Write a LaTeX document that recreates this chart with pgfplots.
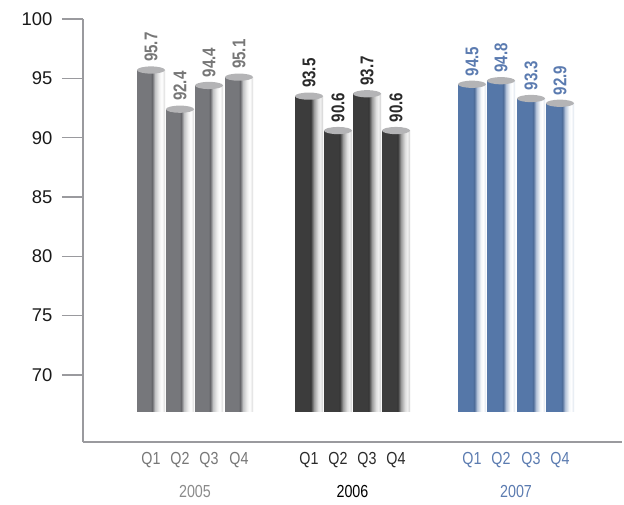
\documentclass[border=0pt]{standalone}
\usepackage{pgfplots}
\pgfplotsset{compat=1.18}
\usepackage{pgfplotstable}
\usepackage{fontspec}
\setmainfont{Liberation Sans}
\newfontfamily\condfont[FakeStretch=0.82]{Liberation Sans}
\definecolor{cA}{HTML}{76777B}
\definecolor{cB}{HTML}{3C3C3C}
\definecolor{cC}{HTML}{5577A8}
\definecolor{lA}{HTML}{777777}
\definecolor{lB}{HTML}{2A2A2A}
\definecolor{lC}{HTML}{5B7BB0}
\definecolor{yA}{HTML}{8A8A8A}
\definecolor{axgray}{HTML}{9A9A9E}
\definecolor{capgray}{HTML}{B4B4B6}
\pgfdeclarehorizontalshading{shA}{100bp}{color(0bp)=(cA); color(25bp)=(cA); color(49bp)=(cA); color(52bp)=(cA!85!black); color(57bp)=(cA!45!white); color(64bp)=(white!93!black); color(69bp)=(white); color(75bp)=(white!86!black); color(100bp)=(white!86!black)}
\pgfdeclarehorizontalshading{shB}{100bp}{color(0bp)=(cB); color(25bp)=(cB); color(50bp)=(cB); color(53bp)=(cB!90!black); color(59bp)=(cB!50!white); color(66bp)=(white!87!black); color(70bp)=(white!94!black); color(75bp)=(white!82!black); color(100bp)=(white!82!black)}
\pgfdeclarehorizontalshading{shC}{100bp}{color(0bp)=(cC); color(25bp)=(cC); color(51bp)=(cC); color(54bp)=(cC!90!black); color(59bp)=(cC!45!white); color(66bp)=(cC!6!white); color(70bp)=(white); color(75bp)=(cC!20!white); color(100bp)=(cC!20!white)}
\pgfdeclareplotmark{cyltop}{\pgfpathellipse{\pgfpointorigin}{\pgfpoint{14bp}{0pt}}{\pgfpoint{0pt}{3.6bp}}\pgfusepath{fill}}
\pgfplotstableread{
x v
151 95.7
180 92.4
209 94.4
239 95.1
}\tA
\pgfplotstableread{
x v
309 93.5
338 90.6
367 93.7
396 90.6
}\tB
\pgfplotstableread{
x v
472 94.5
501 94.8
531 93.3
560 92.9
}\tC
\begin{document}
\begin{tikzpicture}
\path[use as bounding box] (0,0) rectangle (624bp,505bp);
\begin{axis}[
  at={(83bp,63bp)}, anchor=south west,
  scale only axis, width=539bp, height=423bp,
  xmin=83, xmax=622, ymin=-2.54, ymax=33.1,
  axis x line*=bottom, axis y line*=left,
  axis line style={axgray, line width=1.8bp},
  clip=false,
  /pgf/number format/assume math mode=true,
  ytick={3.1,8.1,13.1,18.1,23.1,28.1,33.1},
  yticklabels={70,75,80,85,90,95,100},
  tick align=outside,
  major tick length=21bp,
  ytick style={axgray, line width=1.5bp},
  yticklabel style={font=\fontsize{18.5}{20}\selectfont, text=black!90, xshift=-6bp},
  xtick={151,180,209,239,309,338,367,396,472,501,531,560},
  xticklabels={\textcolor{lA}{Q1},\textcolor{lA}{Q2},\textcolor{lA}{Q3},\textcolor{lA}{Q4},
               \textcolor{lB}{Q1},\textcolor{lB}{Q2},\textcolor{lB}{Q3},\textcolor{lB}{Q4},
               \textcolor{lC}{Q1},\textcolor{lC}{Q2},\textcolor{lC}{Q3},\textcolor{lC}{Q4}},
  xtick style={draw=none},
  xticklabel style={font=\condfont\fontsize{17.5}{19}\selectfont, yshift=14bp},
  every node near coord/.append style={font=\condfont\bfseries\fontsize{18.5}{20}\selectfont, rotate=90, anchor=west, inner sep=1bp, inner xsep=8bp},
]
% one plot per bar so that each bar gets its own cylinder shading
\pgfplotsinvokeforeach{151,180,209,239}{
\addplot[ybar, bar width=28, bar shift=0pt, draw=none, shade, shading=shA,
  restrict x to domain=#1:#1,
  nodes near coords, point meta=explicit symbolic,
  nodes near coords style={text=lA}]
  table[x=x, y expr=\thisrow{v}-66.9, meta=v]{\tA};
}
\addplot[only marks, mark=cyltop, mark options={fill=capgray, draw=none}]
  table[x=x, y expr=\thisrow{v}-66.9]{\tA};
\pgfplotsinvokeforeach{309,338,367,396}{
\addplot[ybar, bar width=28, bar shift=0pt, draw=none, shade, shading=shB,
  restrict x to domain=#1:#1,
  nodes near coords, point meta=explicit symbolic,
  nodes near coords style={text=lB}]
  table[x=x, y expr=\thisrow{v}-66.9, meta=v]{\tB};
}
\addplot[only marks, mark=cyltop, mark options={fill=capgray, draw=none}]
  table[x=x, y expr=\thisrow{v}-66.9]{\tB};
\pgfplotsinvokeforeach{472,501,531,560}{
\addplot[ybar, bar width=28, bar shift=0pt, draw=none, shade, shading=shC,
  restrict x to domain=#1:#1,
  nodes near coords, point meta=explicit symbolic,
  nodes near coords style={text=lC}]
  table[x=x, y expr=\thisrow{v}-66.9, meta=v]{\tC};
}
\addplot[only marks, mark=cyltop, mark options={fill=capgray, draw=none}]
  table[x=x, y expr=\thisrow{v}-66.9]{\tC};
\node[font=\condfont\fontsize{17.5}{19}\selectfont, text=yA] at (axis cs:195,-2.54) [yshift=-49bp] {2005};
\node[font=\condfont\fontsize{17.5}{19}\selectfont, text=black] at (axis cs:352.5,-2.54) [yshift=-49bp] {2006};
\node[font=\condfont\fontsize{17.5}{19}\selectfont, text=lC] at (axis cs:516,-2.54) [yshift=-49bp] {2007};
\end{axis}
\end{tikzpicture}
\end{document}
